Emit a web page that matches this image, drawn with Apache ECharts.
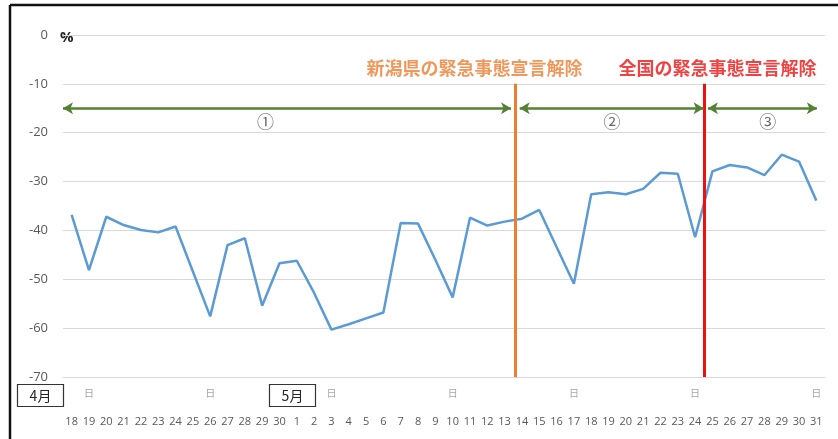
<!DOCTYPE html>
<html><head><meta charset="utf-8">
<script src="https://cdn.jsdelivr.net/npm/echarts@6/dist/echarts.min.js"></script>
<style>html,body{margin:0;padding:0;background:#fff}#c{width:838px;height:439px}</style>
</head><body><div id="c"></div>
<script>
// categories (day of month, Apr 18 – May 31)
const days = ['18','19','20','21','22','23','24','25','26','27','28','29','30',
  '1','2','3','4','5','6','7','8','9','10','11','12','13','14','15','16','17','18','19','20','21','22','23','24','25','26','27','28','29','30','31'];
// Sundays flagged with 日
const sundayIdx = [1, 8, 15, 22, 29, 36, 43];
// series values (%)
const values = [-36.8,-48.1,-37.2,-38.9,-39.9,-40.4,-39.2,-48.4,-57.6,-43.0,-41.6,-55.4,-46.7,
  -46.2,-52.8,-60.3,-59.2,-58.0,-56.8,-38.5,-38.6,-46.0,-53.7,-37.4,-39.0,-38.2,-37.6,-35.8,-43.4,-50.9,
  -32.6,-32.2,-32.6,-31.5,-28.2,-28.4,-41.4,-27.9,-26.6,-27.1,-28.7,-24.5,-25.9,-33.9];
const yTicks = {min: -70, max: 0, interval: 10};
// event lines (fractional category position)
const events = [
  {pos: 25.6, label: '新潟県の緊急事態宣言解除', labelPos: 23.26, color: '#ED7D31'},
  {pos: 36.55, label: '全国の緊急事態宣言解除', labelPos: 37.29, color: '#F01010'}
];
// phase arrows [start, end]
const phases = [[-0.5, 25.37], [25.87, 36.49], [36.74, 43.03]];
const phaseLabels = [['①', 11.2], ['②', 31.2], ['③', 40.2]];
const arrowLevel = -15;
const phaseLabelLevel = -17.8;
const eventLabelLevel = -6.8;
const eventTop = -10;

const chart = echarts.init(document.getElementById('c'));
const font = 'Noto Sans CJK JP';
chart.setOption({
  animation: false,
  textStyle: {fontFamily: font},
  grid: {left: 63, right: 13, top: 35, bottom: 62},
  xAxis: [{
    type: 'category', data: days, boundaryGap: true,
    axisLine: {show: false}, axisTick: {show: false},
    axisLabel: {
      interval: 0, margin: 7,
      formatter: (v, i) => (sundayIdx.includes(i) ? '{s|日}' : '{s| }') + '\n{d|' + v + '}',
      rich: {
        s: {fontSize: 10, color: '#a6a6a6', lineHeight: 18},
        d: {fontSize: 11, color: '#595959', lineHeight: 40, fontFamily: 'Open Sans'}
      }
    }
  }, {
    type: 'value', min: -0.5, max: 43.5, show: false
  }],
  yAxis: {
    type: 'value', min: yTicks.min, max: yTicks.max, interval: yTicks.interval,
    axisLine: {show: false}, axisTick: {show: false},
    axisLabel: {color: '#595959', fontSize: 13, margin: 15, fontFamily: 'Open Sans'},
    splitLine: {lineStyle: {color: '#d9d9d9', width: 1}}
  },
  series: [{
    type: 'line', data: values, xAxisIndex: 0, symbol: 'none',
    lineStyle: {color: '#5B9BD5', width: 2.5}
  }, {
    type: 'scatter', xAxisIndex: 1, symbolSize: 0, silent: true,
    data: events.map(e => ({value: [e.labelPos, eventLabelLevel],
      label: {show: true, formatter: e.label, color: e.color, fontSize: 18, fontWeight: 'bold', position: 'inside'}})),
    markLine: {
      silent: true, symbol: 'none', label: {show: false},
      data: events.map(e => [
        {coord: [e.pos, eventTop], lineStyle: {color: e.color, width: 3, type: 'solid'}},
        {coord: [e.pos, yTicks.min]}
      ])
    }
  }, {
    type: 'scatter', xAxisIndex: 1, symbolSize: 0, silent: true,
    data: phaseLabels.map(p => ({value: [p[1], phaseLabelLevel],
      label: {show: true, formatter: p[0], color: '#404040', fontSize: 17, position: 'inside'}})),
    markLine: {
      silent: true, symbol: ['arrow', 'arrow'], symbolSize: [9, 10], label: {show: false},
      lineStyle: {color: '#548235', width: 2.5, type: 'solid'},
      data: phases.map(p => [{coord: [p[0], arrowLevel]}, {coord: [p[1], arrowLevel]}])
    }
  }],
  graphic: [
    {type: 'line', shape: {x1: 10, y1: 5, x2: 10, y2: 439}, style: {stroke: '#111', lineWidth: 2.5}},
    {type: 'line', shape: {x1: 10, y1: 5, x2: 838, y2: 5}, style: {stroke: '#111', lineWidth: 2.5}},
    {type: 'text', left: 60, top: 30, style: {text: '%', fontSize: 15, fontWeight: 'bold', fill: '#262626', fontFamily: 'Open Sans'}},
    {type: 'rect', shape: {x: 17.5, y: 384.5, width: 46, height: 22}, style: {fill: '#fff', stroke: '#333', lineWidth: 1.2}},
    {type: 'text', x: 40.5, y: 395.5, style: {text: '4月', fontSize: 14, fill: '#262626', align: 'center', verticalAlign: 'middle', fontFamily: font}},
    {type: 'rect', shape: {x: 269.5, y: 384.5, width: 46, height: 22}, style: {fill: '#fff', stroke: '#333', lineWidth: 1.2}},
    {type: 'text', x: 292.5, y: 395.5, style: {text: '5月', fontSize: 14, fill: '#262626', align: 'center', verticalAlign: 'middle', fontFamily: font}}
  ]
});
</script></body></html>
